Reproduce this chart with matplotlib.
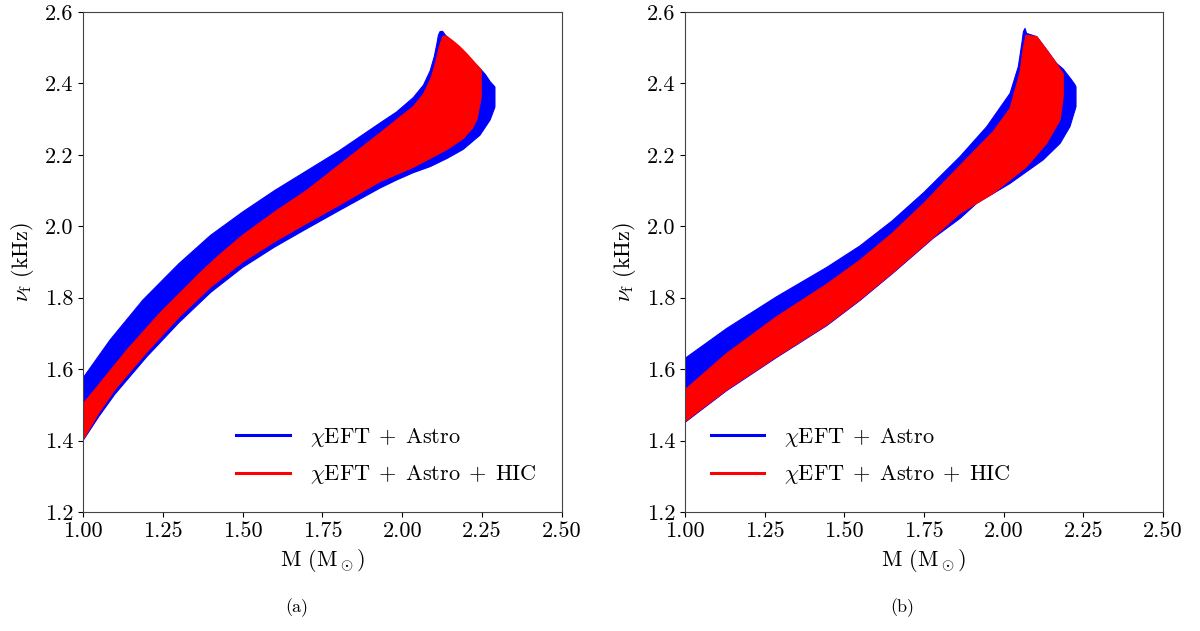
import matplotlib
matplotlib.use("Agg")
import matplotlib.pyplot as plt
import numpy as np

plt.rcParams['font.family'] = 'serif'
plt.rcParams['font.serif'] = ['cmr10']
plt.rcParams['mathtext.fontset'] = 'cm'
plt.rcParams['axes.formatter.use_mathtext'] = True
plt.rcParams['font.size'] = 16

# ---- Panel (a) ----
a_blue_lo_M = [1.00, 1.05, 1.10, 1.20, 1.30, 1.40, 1.50, 1.60, 1.70, 1.80, 1.93, 1.983, 2.034, 2.087, 2.14, 2.19,
               2.243, 2.275, 2.29]
a_blue_lo_nu = [1.400, 1.468, 1.530, 1.635, 1.730, 1.815, 1.885, 1.942, 1.993, 2.043, 2.107, 2.130, 2.150, 2.167, 2.190,
                2.215, 2.255, 2.298, 2.334]
a_blue_up_M = [1.00, 1.085, 1.188, 1.30, 1.40, 1.50, 1.60, 1.70, 1.80, 1.93, 1.982, 2.034, 2.066, 2.087, 2.100, 2.108,
               2.113, 2.118, 2.126, 2.135, 2.16, 2.20, 2.245, 2.26, 2.275, 2.29]
a_blue_up_nu = [1.575, 1.682, 1.794, 1.895, 1.975, 2.04, 2.10, 2.155, 2.21, 2.289, 2.32, 2.36, 2.395, 2.435, 2.475, 2.51,
                2.535, 2.545, 2.546, 2.535, 2.515, 2.48, 2.44, 2.425, 2.405, 2.39]

a_red_lo_M = [1.00, 1.05, 1.10, 1.20, 1.30, 1.40, 1.50, 1.60, 1.70, 1.80, 1.93, 2.034, 2.087, 2.14, 2.19, 2.22,
              2.234, 2.247]
a_red_lo_nu = [1.402, 1.478, 1.543, 1.648, 1.745, 1.830, 1.900, 1.957, 2.008, 2.058, 2.125, 2.165, 2.19, 2.215, 2.245,
               2.275, 2.30, 2.362]
a_red_up_M = [1.00, 1.138, 1.241, 1.366, 1.42, 1.50, 1.60, 1.70, 1.80, 1.93, 2.034, 2.066, 2.09, 2.105, 2.115, 2.122,
              2.128, 2.135, 2.145, 2.16, 2.181, 2.20, 2.22, 2.247]
a_red_up_nu = [1.502, 1.654, 1.757, 1.869, 1.914, 1.975, 2.04, 2.10, 2.17, 2.261, 2.335, 2.37, 2.415, 2.46, 2.50, 2.52,
               2.532, 2.533, 2.528, 2.518, 2.502, 2.485, 2.465, 2.438]

# ---- Panel (b) ----
b_blue_lo_M = [1.00, 1.131, 1.288, 1.445, 1.55, 1.654, 1.778, 1.863, 1.915, 2.02, 2.124, 2.177, 2.208, 2.227]
b_blue_lo_nu = [1.451, 1.540, 1.633, 1.722, 1.793, 1.870, 1.966, 2.022, 2.064, 2.120, 2.186, 2.232, 2.279, 2.335]
b_blue_up_M = [1.00, 1.131, 1.288, 1.445, 1.549, 1.65, 1.75, 1.863, 1.947, 2.02, 2.046, 2.057, 2.062, 2.067, 2.072,
               2.104, 2.135, 2.166, 2.187, 2.213, 2.224, 2.227]
b_blue_up_nu = [1.630, 1.714, 1.803, 1.885, 1.945, 2.015, 2.095, 2.195, 2.279, 2.372, 2.447, 2.512, 2.545, 2.554, 2.54,
                2.531, 2.494, 2.456, 2.44, 2.41, 2.396, 2.39]

b_red_lo_M = [1.00, 1.131, 1.288, 1.445, 1.55, 1.654, 1.778, 1.863, 1.967, 2.072, 2.135, 2.177, 2.187]
b_red_lo_nu = [1.453, 1.542, 1.635, 1.724, 1.795, 1.872, 1.968, 2.036, 2.092, 2.167, 2.232, 2.298, 2.363]
b_red_up_M = [1.00, 1.131, 1.288, 1.445, 1.549, 1.65, 1.75, 1.863, 1.967, 2.02, 2.051, 2.062, 2.07, 2.104, 2.135,
              2.166, 2.182, 2.187]
b_red_up_nu = [1.542, 1.644, 1.747, 1.838, 1.905, 1.98, 2.065, 2.17, 2.265, 2.33, 2.43, 2.50, 2.535, 2.531, 2.494,
               2.456, 2.433, 2.428]

labels = [r'$\chi\mathrm{EFT}\;+\;\mathrm{Astro}$', r'$\chi\mathrm{EFT}\;+\;\mathrm{Astro}\;+\;\mathrm{HIC}$']
colors = ['#0000ff', '#ff0000']
x_ticks = [1.00, 1.25, 1.50, 1.75, 2.00, 2.25, 2.50]
y_ticks = [1.2, 1.4, 1.6, 1.8, 2.0, 2.2, 2.4, 2.6]

fig = plt.figure(figsize=(12, 6.31), dpi=100)
ax_a = fig.add_axes([83 / 1200, 1 - 512 / 631, 479 / 1200, 500 / 631])
ax_b = fig.add_axes([685 / 1200, 1 - 512 / 631, 478 / 1200, 500 / 631])


def band(ax, loM, lonu, upM, upnu, color):
    xs = list(loM) + list(upM)[::-1]
    ys = list(lonu) + list(upnu)[::-1]
    ax.fill(xs, ys, color=color, lw=0.8, ec=color, joinstyle='round')


panels = [
    (ax_a, [(a_blue_lo_M, a_blue_lo_nu, a_blue_up_M, a_blue_up_nu), (a_red_lo_M, a_red_lo_nu, a_red_up_M, a_red_up_nu)],
     'lower right', (1.0, 0.0), '(a)', 297),
    (ax_b, [(b_blue_lo_M, b_blue_lo_nu, b_blue_up_M, b_blue_up_nu), (b_red_lo_M, b_red_lo_nu, b_red_up_M, b_red_up_nu)],
     'lower left', (0.0, 0.0), '(b)', 902),
]

for ax, bands, loc, anchor, tag, tx in panels:
    for (loM, lonu, upM, upnu), c in zip(bands, colors):
        band(ax, loM, lonu, upM, upnu, c)
    handles = [plt.Line2D([], [], color=c, lw=2.2) for c in colors]
    ax.legend(handles, labels, loc=loc, bbox_to_anchor=anchor, frameon=False, fontsize=16,
              handlelength=2.4, handletextpad=0.9, labelspacing=0.65, borderaxespad=0.75)
    ax.set_xlim(1.0, 2.5)
    ax.set_ylim(1.2, 2.6)
    ax.set_xticks(x_ticks)
    ax.set_xticklabels([f'{v:.2f}' for v in x_ticks])
    ax.set_yticks(y_ticks)
    ax.set_yticklabels([f'{v:.1f}' for v in y_ticks])
    ax.tick_params(labelsize=16)
    ax.set_xlabel(r'M (M$_\odot$)', fontsize=16, labelpad=4)
    ax.set_ylabel(r'$\nu_{\mathrm{f}}$ (kHz)', fontsize=16, labelpad=6)
    for s in ax.spines.values():
        s.set_color('#444444')
    fig.text(tx / 1200, 1 - 608 / 631, tag, ha='center', va='center', fontsize=13)

fig.savefig('out.png', dpi=100)
